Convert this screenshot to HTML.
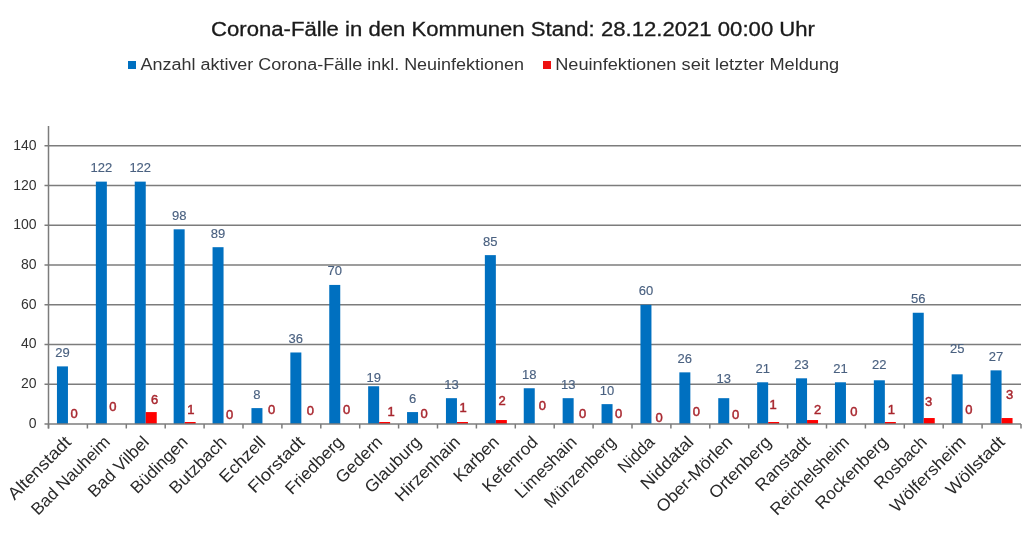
<!DOCTYPE html><html><head><meta charset="utf-8"><style>html,body{margin:0;padding:0;background:#fff;width:1024px;height:534px;overflow:hidden}svg{display:block;will-change:transform}text{font-family:"Liberation Sans",sans-serif}</style></head><body>
<svg width="1024" height="534" viewBox="0 0 1024 534">
<rect width="1024" height="534" fill="#fff"/>
<text x="211" y="36.3" font-size="19.3" fill="#1a1a1a" stroke="#1a1a1a" stroke-width="0.3" textLength="604" lengthAdjust="spacingAndGlyphs">Corona-Fälle in den Kommunen Stand: 28.12.2021 00:00 Uhr</text>
<rect x="128" y="61" width="8" height="8" fill="#0070c0"/>
<text x="140.5" y="69.5" font-size="16" fill="#333" textLength="383.5" lengthAdjust="spacingAndGlyphs">Anzahl aktiver Corona-Fälle inkl. Neuinfektionen</text>
<rect x="543" y="61" width="8" height="8" fill="#ee1111"/>
<text x="555.2" y="69.5" font-size="16" fill="#333" textLength="284" lengthAdjust="spacingAndGlyphs">Neuinfektionen seit letzter Meldung</text>
<line x1="44.5" y1="384.27" x2="1021.0" y2="384.27" stroke="#7c7c7c" stroke-width="1.5"/>
<text x="36.6" y="388.17" font-size="14" fill="#333" text-anchor="end">20</text>
<line x1="44.5" y1="344.53" x2="1021.0" y2="344.53" stroke="#7c7c7c" stroke-width="1.5"/>
<text x="36.6" y="348.43" font-size="14" fill="#333" text-anchor="end">40</text>
<line x1="44.5" y1="304.80" x2="1021.0" y2="304.80" stroke="#7c7c7c" stroke-width="1.5"/>
<text x="36.6" y="308.70" font-size="14" fill="#333" text-anchor="end">60</text>
<line x1="44.5" y1="265.07" x2="1021.0" y2="265.07" stroke="#7c7c7c" stroke-width="1.5"/>
<text x="36.6" y="268.97" font-size="14" fill="#333" text-anchor="end">80</text>
<line x1="44.5" y1="225.33" x2="1021.0" y2="225.33" stroke="#7c7c7c" stroke-width="1.5"/>
<text x="36.6" y="229.23" font-size="14" fill="#333" text-anchor="end">100</text>
<line x1="44.5" y1="185.60" x2="1021.0" y2="185.60" stroke="#7c7c7c" stroke-width="1.5"/>
<text x="36.6" y="189.50" font-size="14" fill="#333" text-anchor="end">120</text>
<line x1="44.5" y1="145.87" x2="1021.0" y2="145.87" stroke="#7c7c7c" stroke-width="1.5"/>
<text x="36.6" y="149.77" font-size="14" fill="#333" text-anchor="end">140</text>
<text x="36.6" y="427.90" font-size="14" fill="#333" text-anchor="end">0</text>
<rect x="56.95" y="366.39" width="11.0" height="57.61" fill="#0070c0"/>
<text x="62.45" y="356.89" font-size="13" fill="#4a6180" stroke="#4a6180" stroke-width="0.15" text-anchor="middle">29</text>
<text x="74.00" y="417.60" font-size="13" fill="#a8262e" stroke="#a8262e" stroke-width="0.45" text-anchor="middle">0</text>
<rect x="95.85" y="181.63" width="11.0" height="242.37" fill="#0070c0"/>
<text x="101.35" y="172.13" font-size="13" fill="#4a6180" stroke="#4a6180" stroke-width="0.15" text-anchor="middle">122</text>
<text x="112.80" y="410.80" font-size="13" fill="#a8262e" stroke="#a8262e" stroke-width="0.45" text-anchor="middle">0</text>
<rect x="134.75" y="181.63" width="11.0" height="242.37" fill="#0070c0"/>
<rect x="145.75" y="412.08" width="11.0" height="11.92" fill="#ff0000"/>
<text x="140.25" y="172.13" font-size="13" fill="#4a6180" stroke="#4a6180" stroke-width="0.15" text-anchor="middle">122</text>
<text x="154.60" y="404.10" font-size="13" fill="#a8262e" stroke="#a8262e" stroke-width="0.45" text-anchor="middle">6</text>
<rect x="173.65" y="229.31" width="11.0" height="194.69" fill="#0070c0"/>
<rect x="184.65" y="422.01" width="11.0" height="1.99" fill="#ff0000"/>
<text x="179.15" y="219.81" font-size="13" fill="#4a6180" stroke="#4a6180" stroke-width="0.15" text-anchor="middle">98</text>
<text x="190.80" y="413.70" font-size="13" fill="#a8262e" stroke="#a8262e" stroke-width="0.45" text-anchor="middle">1</text>
<rect x="212.55" y="247.19" width="11.0" height="176.81" fill="#0070c0"/>
<text x="218.05" y="237.69" font-size="13" fill="#4a6180" stroke="#4a6180" stroke-width="0.15" text-anchor="middle">89</text>
<text x="229.70" y="419.30" font-size="13" fill="#a8262e" stroke="#a8262e" stroke-width="0.45" text-anchor="middle">0</text>
<rect x="251.45" y="408.11" width="11.0" height="15.89" fill="#0070c0"/>
<text x="256.95" y="398.61" font-size="13" fill="#4a6180" stroke="#4a6180" stroke-width="0.15" text-anchor="middle">8</text>
<text x="271.60" y="414.30" font-size="13" fill="#a8262e" stroke="#a8262e" stroke-width="0.45" text-anchor="middle">0</text>
<rect x="290.35" y="352.48" width="11.0" height="71.52" fill="#0070c0"/>
<text x="295.85" y="342.98" font-size="13" fill="#4a6180" stroke="#4a6180" stroke-width="0.15" text-anchor="middle">36</text>
<text x="310.30" y="414.60" font-size="13" fill="#a8262e" stroke="#a8262e" stroke-width="0.45" text-anchor="middle">0</text>
<rect x="329.25" y="284.93" width="11.0" height="139.07" fill="#0070c0"/>
<text x="334.75" y="275.43" font-size="13" fill="#4a6180" stroke="#4a6180" stroke-width="0.15" text-anchor="middle">70</text>
<text x="346.50" y="414.30" font-size="13" fill="#a8262e" stroke="#a8262e" stroke-width="0.45" text-anchor="middle">0</text>
<rect x="368.15" y="386.25" width="11.0" height="37.75" fill="#0070c0"/>
<rect x="379.15" y="422.01" width="11.0" height="1.99" fill="#ff0000"/>
<text x="373.65" y="381.90" font-size="13" fill="#4a6180" stroke="#4a6180" stroke-width="0.15" text-anchor="middle">19</text>
<text x="391.10" y="415.60" font-size="13" fill="#a8262e" stroke="#a8262e" stroke-width="0.45" text-anchor="middle">1</text>
<rect x="407.05" y="412.08" width="11.0" height="11.92" fill="#0070c0"/>
<text x="412.55" y="402.58" font-size="13" fill="#4a6180" stroke="#4a6180" stroke-width="0.15" text-anchor="middle">6</text>
<text x="424.00" y="417.60" font-size="13" fill="#a8262e" stroke="#a8262e" stroke-width="0.45" text-anchor="middle">0</text>
<rect x="445.95" y="398.17" width="11.0" height="25.83" fill="#0070c0"/>
<rect x="456.95" y="422.01" width="11.0" height="1.99" fill="#ff0000"/>
<text x="451.45" y="388.67" font-size="13" fill="#4a6180" stroke="#4a6180" stroke-width="0.15" text-anchor="middle">13</text>
<text x="463.00" y="412.10" font-size="13" fill="#a8262e" stroke="#a8262e" stroke-width="0.45" text-anchor="middle">1</text>
<rect x="484.85" y="255.13" width="11.0" height="168.87" fill="#0070c0"/>
<rect x="495.85" y="420.03" width="11.0" height="3.97" fill="#ff0000"/>
<text x="490.35" y="245.63" font-size="13" fill="#4a6180" stroke="#4a6180" stroke-width="0.15" text-anchor="middle">85</text>
<text x="502.00" y="405.10" font-size="13" fill="#a8262e" stroke="#a8262e" stroke-width="0.45" text-anchor="middle">2</text>
<rect x="523.75" y="388.24" width="11.0" height="35.76" fill="#0070c0"/>
<text x="529.25" y="378.74" font-size="13" fill="#4a6180" stroke="#4a6180" stroke-width="0.15" text-anchor="middle">18</text>
<text x="542.40" y="409.90" font-size="13" fill="#a8262e" stroke="#a8262e" stroke-width="0.45" text-anchor="middle">0</text>
<rect x="562.65" y="398.17" width="11.0" height="25.83" fill="#0070c0"/>
<text x="568.15" y="388.67" font-size="13" fill="#4a6180" stroke="#4a6180" stroke-width="0.15" text-anchor="middle">13</text>
<text x="582.70" y="417.60" font-size="13" fill="#a8262e" stroke="#a8262e" stroke-width="0.45" text-anchor="middle">0</text>
<rect x="601.55" y="404.13" width="11.0" height="19.87" fill="#0070c0"/>
<text x="607.05" y="394.63" font-size="13" fill="#4a6180" stroke="#4a6180" stroke-width="0.15" text-anchor="middle">10</text>
<text x="618.60" y="417.60" font-size="13" fill="#a8262e" stroke="#a8262e" stroke-width="0.45" text-anchor="middle">0</text>
<rect x="640.45" y="304.80" width="11.0" height="119.20" fill="#0070c0"/>
<text x="645.95" y="295.30" font-size="13" fill="#4a6180" stroke="#4a6180" stroke-width="0.15" text-anchor="middle">60</text>
<text x="659.10" y="421.60" font-size="13" fill="#a8262e" stroke="#a8262e" stroke-width="0.45" text-anchor="middle">0</text>
<rect x="679.35" y="372.35" width="11.0" height="51.65" fill="#0070c0"/>
<text x="684.85" y="362.85" font-size="13" fill="#4a6180" stroke="#4a6180" stroke-width="0.15" text-anchor="middle">26</text>
<text x="696.30" y="415.50" font-size="13" fill="#a8262e" stroke="#a8262e" stroke-width="0.45" text-anchor="middle">0</text>
<rect x="718.25" y="398.17" width="11.0" height="25.83" fill="#0070c0"/>
<text x="723.75" y="383.30" font-size="13" fill="#4a6180" stroke="#4a6180" stroke-width="0.15" text-anchor="middle">13</text>
<text x="735.70" y="419.10" font-size="13" fill="#a8262e" stroke="#a8262e" stroke-width="0.45" text-anchor="middle">0</text>
<rect x="757.15" y="382.28" width="11.0" height="41.72" fill="#0070c0"/>
<rect x="768.15" y="422.01" width="11.0" height="1.99" fill="#ff0000"/>
<text x="762.65" y="372.78" font-size="13" fill="#4a6180" stroke="#4a6180" stroke-width="0.15" text-anchor="middle">21</text>
<text x="773.20" y="408.90" font-size="13" fill="#a8262e" stroke="#a8262e" stroke-width="0.45" text-anchor="middle">1</text>
<rect x="796.05" y="378.31" width="11.0" height="45.69" fill="#0070c0"/>
<rect x="807.05" y="420.03" width="11.0" height="3.97" fill="#ff0000"/>
<text x="801.55" y="368.81" font-size="13" fill="#4a6180" stroke="#4a6180" stroke-width="0.15" text-anchor="middle">23</text>
<text x="817.60" y="413.70" font-size="13" fill="#a8262e" stroke="#a8262e" stroke-width="0.45" text-anchor="middle">2</text>
<rect x="834.95" y="382.28" width="11.0" height="41.72" fill="#0070c0"/>
<text x="840.45" y="372.78" font-size="13" fill="#4a6180" stroke="#4a6180" stroke-width="0.15" text-anchor="middle">21</text>
<text x="853.80" y="416.30" font-size="13" fill="#a8262e" stroke="#a8262e" stroke-width="0.45" text-anchor="middle">0</text>
<rect x="873.85" y="380.29" width="11.0" height="43.71" fill="#0070c0"/>
<rect x="884.85" y="422.01" width="11.0" height="1.99" fill="#ff0000"/>
<text x="879.35" y="368.60" font-size="13" fill="#4a6180" stroke="#4a6180" stroke-width="0.15" text-anchor="middle">22</text>
<text x="891.40" y="413.70" font-size="13" fill="#a8262e" stroke="#a8262e" stroke-width="0.45" text-anchor="middle">1</text>
<rect x="912.75" y="312.75" width="11.0" height="111.25" fill="#0070c0"/>
<rect x="923.75" y="418.04" width="11.0" height="5.96" fill="#ff0000"/>
<text x="918.25" y="303.25" font-size="13" fill="#4a6180" stroke="#4a6180" stroke-width="0.15" text-anchor="middle">56</text>
<text x="928.70" y="405.70" font-size="13" fill="#a8262e" stroke="#a8262e" stroke-width="0.45" text-anchor="middle">3</text>
<rect x="951.65" y="374.33" width="11.0" height="49.67" fill="#0070c0"/>
<text x="957.15" y="353.30" font-size="13" fill="#4a6180" stroke="#4a6180" stroke-width="0.15" text-anchor="middle">25</text>
<text x="968.90" y="414.30" font-size="13" fill="#a8262e" stroke="#a8262e" stroke-width="0.45" text-anchor="middle">0</text>
<rect x="990.55" y="370.36" width="11.0" height="53.64" fill="#0070c0"/>
<rect x="1001.55" y="418.04" width="11.0" height="5.96" fill="#ff0000"/>
<text x="996.05" y="360.86" font-size="13" fill="#4a6180" stroke="#4a6180" stroke-width="0.15" text-anchor="middle">27</text>
<text x="1009.50" y="398.80" font-size="13" fill="#a8262e" stroke="#a8262e" stroke-width="0.45" text-anchor="middle">3</text>
<line x1="48.5" y1="126" x2="48.5" y2="428.5" stroke="#7c7c7c" stroke-width="1.5"/>
<line x1="44.5" y1="424.0" x2="1021.0" y2="424.0" stroke="#7c7c7c" stroke-width="1.5"/>
<line x1="48.50" y1="424.0" x2="48.50" y2="428.5" stroke="#7c7c7c" stroke-width="1.5"/>
<line x1="87.40" y1="424.0" x2="87.40" y2="428.5" stroke="#7c7c7c" stroke-width="1.5"/>
<line x1="126.30" y1="424.0" x2="126.30" y2="428.5" stroke="#7c7c7c" stroke-width="1.5"/>
<line x1="165.20" y1="424.0" x2="165.20" y2="428.5" stroke="#7c7c7c" stroke-width="1.5"/>
<line x1="204.10" y1="424.0" x2="204.10" y2="428.5" stroke="#7c7c7c" stroke-width="1.5"/>
<line x1="243.00" y1="424.0" x2="243.00" y2="428.5" stroke="#7c7c7c" stroke-width="1.5"/>
<line x1="281.90" y1="424.0" x2="281.90" y2="428.5" stroke="#7c7c7c" stroke-width="1.5"/>
<line x1="320.80" y1="424.0" x2="320.80" y2="428.5" stroke="#7c7c7c" stroke-width="1.5"/>
<line x1="359.70" y1="424.0" x2="359.70" y2="428.5" stroke="#7c7c7c" stroke-width="1.5"/>
<line x1="398.60" y1="424.0" x2="398.60" y2="428.5" stroke="#7c7c7c" stroke-width="1.5"/>
<line x1="437.50" y1="424.0" x2="437.50" y2="428.5" stroke="#7c7c7c" stroke-width="1.5"/>
<line x1="476.40" y1="424.0" x2="476.40" y2="428.5" stroke="#7c7c7c" stroke-width="1.5"/>
<line x1="515.30" y1="424.0" x2="515.30" y2="428.5" stroke="#7c7c7c" stroke-width="1.5"/>
<line x1="554.20" y1="424.0" x2="554.20" y2="428.5" stroke="#7c7c7c" stroke-width="1.5"/>
<line x1="593.10" y1="424.0" x2="593.10" y2="428.5" stroke="#7c7c7c" stroke-width="1.5"/>
<line x1="632.00" y1="424.0" x2="632.00" y2="428.5" stroke="#7c7c7c" stroke-width="1.5"/>
<line x1="670.90" y1="424.0" x2="670.90" y2="428.5" stroke="#7c7c7c" stroke-width="1.5"/>
<line x1="709.80" y1="424.0" x2="709.80" y2="428.5" stroke="#7c7c7c" stroke-width="1.5"/>
<line x1="748.70" y1="424.0" x2="748.70" y2="428.5" stroke="#7c7c7c" stroke-width="1.5"/>
<line x1="787.60" y1="424.0" x2="787.60" y2="428.5" stroke="#7c7c7c" stroke-width="1.5"/>
<line x1="826.50" y1="424.0" x2="826.50" y2="428.5" stroke="#7c7c7c" stroke-width="1.5"/>
<line x1="865.40" y1="424.0" x2="865.40" y2="428.5" stroke="#7c7c7c" stroke-width="1.5"/>
<line x1="904.30" y1="424.0" x2="904.30" y2="428.5" stroke="#7c7c7c" stroke-width="1.5"/>
<line x1="943.20" y1="424.0" x2="943.20" y2="428.5" stroke="#7c7c7c" stroke-width="1.5"/>
<line x1="982.10" y1="424.0" x2="982.10" y2="428.5" stroke="#7c7c7c" stroke-width="1.5"/>
<line x1="1021.00" y1="424.0" x2="1021.00" y2="428.5" stroke="#7c7c7c" stroke-width="1.5"/>
<text class="cat" transform="translate(68.25,439.2) rotate(-45)" font-size="17" fill="#2a2a2a" text-anchor="end" dominant-baseline="central" textLength="81.5" lengthAdjust="spacingAndGlyphs">Altenstadt</text>
<text class="cat" transform="translate(107.15,439.2) rotate(-45)" font-size="17" fill="#2a2a2a" text-anchor="end" dominant-baseline="central" textLength="103.2" lengthAdjust="spacingAndGlyphs">Bad Nauheim</text>
<text class="cat" transform="translate(146.05,439.2) rotate(-45)" font-size="17" fill="#2a2a2a" text-anchor="end" dominant-baseline="central" textLength="77.9" lengthAdjust="spacingAndGlyphs">Bad Vilbel</text>
<text class="cat" transform="translate(184.95,439.2) rotate(-45)" font-size="17" fill="#2a2a2a" text-anchor="end" dominant-baseline="central" textLength="72.8" lengthAdjust="spacingAndGlyphs">Büdingen</text>
<text class="cat" transform="translate(223.85,439.2) rotate(-45)" font-size="17" fill="#2a2a2a" text-anchor="end" dominant-baseline="central" textLength="73.0" lengthAdjust="spacingAndGlyphs">Butzbach</text>
<text class="cat" transform="translate(262.75,439.2) rotate(-45)" font-size="17" fill="#2a2a2a" text-anchor="end" dominant-baseline="central" textLength="57.5" lengthAdjust="spacingAndGlyphs">Echzell</text>
<text class="cat" transform="translate(301.65,439.2) rotate(-45)" font-size="17" fill="#2a2a2a" text-anchor="end" dominant-baseline="central" textLength="71.9" lengthAdjust="spacingAndGlyphs">Florstadt</text>
<text class="cat" transform="translate(340.55,439.2) rotate(-45)" font-size="17" fill="#2a2a2a" text-anchor="end" dominant-baseline="central" textLength="74.2" lengthAdjust="spacingAndGlyphs">Friedberg</text>
<text class="cat" transform="translate(379.45,439.2) rotate(-45)" font-size="17" fill="#2a2a2a" text-anchor="end" dominant-baseline="central" textLength="58.2" lengthAdjust="spacingAndGlyphs">Gedern</text>
<text class="cat" transform="translate(418.35,439.2) rotate(-45)" font-size="17" fill="#2a2a2a" text-anchor="end" dominant-baseline="central" textLength="71.9" lengthAdjust="spacingAndGlyphs">Glauburg</text>
<text class="cat" transform="translate(457.25,439.2) rotate(-45)" font-size="17" fill="#2a2a2a" text-anchor="end" dominant-baseline="central" textLength="83.9" lengthAdjust="spacingAndGlyphs">Hirzenhain</text>
<text class="cat" transform="translate(496.15,439.2) rotate(-45)" font-size="17" fill="#2a2a2a" text-anchor="end" dominant-baseline="central" textLength="56.3" lengthAdjust="spacingAndGlyphs">Karben</text>
<text class="cat" transform="translate(535.05,439.2) rotate(-45)" font-size="17" fill="#2a2a2a" text-anchor="end" dominant-baseline="central" textLength="70.8" lengthAdjust="spacingAndGlyphs">Kefenrod</text>
<text class="cat" transform="translate(573.95,439.2) rotate(-45)" font-size="17" fill="#2a2a2a" text-anchor="end" dominant-baseline="central" textLength="79.5" lengthAdjust="spacingAndGlyphs">Limeshain</text>
<text class="cat" transform="translate(612.85,439.2) rotate(-45)" font-size="17" fill="#2a2a2a" text-anchor="end" dominant-baseline="central" textLength="93.1" lengthAdjust="spacingAndGlyphs">Münzenberg</text>
<text class="cat" transform="translate(651.75,439.2) rotate(-45)" font-size="17" fill="#2a2a2a" text-anchor="end" dominant-baseline="central" textLength="43.9" lengthAdjust="spacingAndGlyphs">Nidda</text>
<text class="cat" transform="translate(690.65,439.2) rotate(-45)" font-size="17" fill="#2a2a2a" text-anchor="end" dominant-baseline="central" textLength="66.9" lengthAdjust="spacingAndGlyphs">Niddatal</text>
<text class="cat" transform="translate(729.55,439.2) rotate(-45)" font-size="17" fill="#2a2a2a" text-anchor="end" dominant-baseline="central" textLength="99.7" lengthAdjust="spacingAndGlyphs">Ober-Mörlen</text>
<text class="cat" transform="translate(768.45,439.2) rotate(-45)" font-size="17" fill="#2a2a2a" text-anchor="end" dominant-baseline="central" textLength="80.1" lengthAdjust="spacingAndGlyphs">Ortenberg</text>
<text class="cat" transform="translate(807.35,439.2) rotate(-45)" font-size="17" fill="#2a2a2a" text-anchor="end" dominant-baseline="central" textLength="69.5" lengthAdjust="spacingAndGlyphs">Ranstadt</text>
<text class="cat" transform="translate(846.25,439.2) rotate(-45)" font-size="17" fill="#2a2a2a" text-anchor="end" dominant-baseline="central" textLength="103.3" lengthAdjust="spacingAndGlyphs">Reichelsheim</text>
<text class="cat" transform="translate(885.15,439.2) rotate(-45)" font-size="17" fill="#2a2a2a" text-anchor="end" dominant-baseline="central" textLength="95.0" lengthAdjust="spacingAndGlyphs">Rockenberg</text>
<text class="cat" transform="translate(924.05,439.2) rotate(-45)" font-size="17" fill="#2a2a2a" text-anchor="end" dominant-baseline="central" textLength="66.8" lengthAdjust="spacingAndGlyphs">Rosbach</text>
<text class="cat" transform="translate(962.95,439.2) rotate(-45)" font-size="17" fill="#2a2a2a" text-anchor="end" dominant-baseline="central" textLength="99.1" lengthAdjust="spacingAndGlyphs">Wölfersheim</text>
<text class="cat" transform="translate(1001.85,439.2) rotate(-45)" font-size="17" fill="#2a2a2a" text-anchor="end" dominant-baseline="central" textLength="75.2" lengthAdjust="spacingAndGlyphs">Wöllstadt</text>
</svg></body></html>
